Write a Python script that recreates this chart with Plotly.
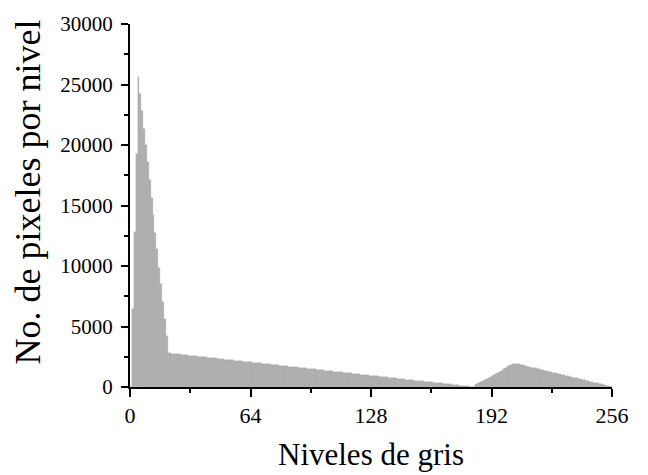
import plotly.graph_objects as go

# Gray levels 0..255 and the pixel count per level
levels = list(range(256))

counts_peak = [0, 6450, 12850, 19250, 25650, 24200, 22800, 21300, 20000, 18600,
               17100, 15600, 14250, 12700, 11400, 9850, 8500, 7000, 5650, 4200]

counts_low = [2790, 2770, 2760, 2740, 2720, 2700, 2690, 2670, 2650, 2630,
              2620, 2600, 2580, 2570, 2550, 2530, 2510, 2500, 2480, 2460,
              2450, 2430, 2410, 2390, 2380, 2360, 2340, 2330, 2310, 2290,
              2270, 2260, 2240, 2220, 2200, 2190, 2170, 2150, 2140, 2120,
              2100, 2080, 2070, 2050, 2030, 2010, 2000, 1980, 1960, 1950,
              1930, 1910, 1890, 1880, 1860, 1840, 1830, 1810, 1790, 1770,
              1760, 1740, 1720, 1700, 1690, 1670, 1650, 1640, 1620, 1600,
              1580, 1570, 1550, 1530, 1520, 1500, 1480, 1460, 1450, 1430,
              1410, 1390, 1380, 1360, 1340, 1330, 1310, 1290, 1270, 1260,
              1240, 1220, 1210, 1190, 1170, 1150, 1140, 1120, 1100, 1090,
              1070, 1050, 1030, 1020, 1000, 980, 960, 950, 930, 910,
              900, 880, 860, 840, 830, 810, 790, 780, 760, 740,
              720, 710, 690, 670, 650, 640, 620, 600, 590, 570,
              550, 530, 520, 500, 480, 470, 450, 430, 410, 400,
              380, 360, 340, 330, 310, 290, 280, 260, 240, 220,
              210, 190, 170, 160, 140, 120, 100, 90, 70, 50,
              30, 20]

counts_rise = [40, 130, 220, 310, 400, 480, 570, 660, 750, 840,
               920, 1010, 1100, 1190, 1280, 1360, 1450, 1540, 1630, 1720,
               1800, 1890, 1940]

counts_fall = [1900, 1870, 1830, 1790, 1750, 1720, 1680, 1640, 1600, 1570,
               1530, 1490, 1460, 1420, 1380, 1340, 1310, 1270, 1230, 1190,
               1160, 1120, 1080, 1050, 1010, 970, 930, 900, 860, 820,
               780, 750, 710, 670, 630, 600, 560, 520, 490, 450,
               410, 370, 340, 300, 260, 220, 190, 150, 110, 80,
               40]

counts = counts_peak + counts_low + counts_rise + counts_fall

x_ticks = [0, 64, 128, 192, 256]
y_ticks = [0, 5000, 10000, 15000, 20000, 25000, 30000]

font_family = "Liberation Serif"

fig = go.Figure()
fig.add_trace(go.Bar(
    x=levels, y=counts, width=1, offset=0,
    marker=dict(color="#b4b4b4", line=dict(color="#969696", width=0.3)),
    showlegend=False,
))

fig.update_layout(
    width=648, height=475,
    margin=dict(l=130, r=36, t=21, b=88),
    paper_bgcolor="white", plot_bgcolor="white",
    bargap=0,
    font=dict(family=font_family, size=21, color="black"),
    xaxis=dict(
        range=[0, 256], tickvals=x_ticks, ticktext=[str(v) for v in x_ticks],
        ticks="outside", ticklen=8, tickwidth=1.5, tickcolor="black",
        showline=True, linecolor="black", linewidth=2,
        showgrid=False, zeroline=False,
        minor=dict(ticks="outside", ticklen=4, tickwidth=1.5, tickcolor="black", dtick=32, tick0=0),
        tickfont=dict(family=font_family, size=22),
    ),
    yaxis=dict(
        range=[0, 30000], tickvals=y_ticks, ticktext=[str(v) for v in y_ticks],
        ticks="outside", ticklen=7, tickwidth=1.5, tickcolor="black",
        showline=True, linecolor="black", linewidth=2,
        showgrid=False, zeroline=False, ticklabelstandoff=4,
        minor=dict(ticks="outside", ticklen=4, tickwidth=1.5, tickcolor="black", dtick=2500, tick0=0),
        tickfont=dict(family=font_family, size=21),
    ),
    annotations=[
        dict(text="Niveles de gris", xref="paper", yref="paper", x=0.5, y=-0.186,
             xanchor="center", yanchor="middle", showarrow=False,
             font=dict(family=font_family, size=31, color="black")),
        dict(text="No. de pixeles por nivel", xref="paper", yref="paper", x=-0.212, y=0.538,
             xanchor="center", yanchor="middle", textangle=-90, showarrow=False,
             font=dict(family=font_family, size=36, color="black")),
    ],
)

fig.write_html("out.html", config={"displayModeBar": False},
               post_script="document.body.style.margin='0';")
